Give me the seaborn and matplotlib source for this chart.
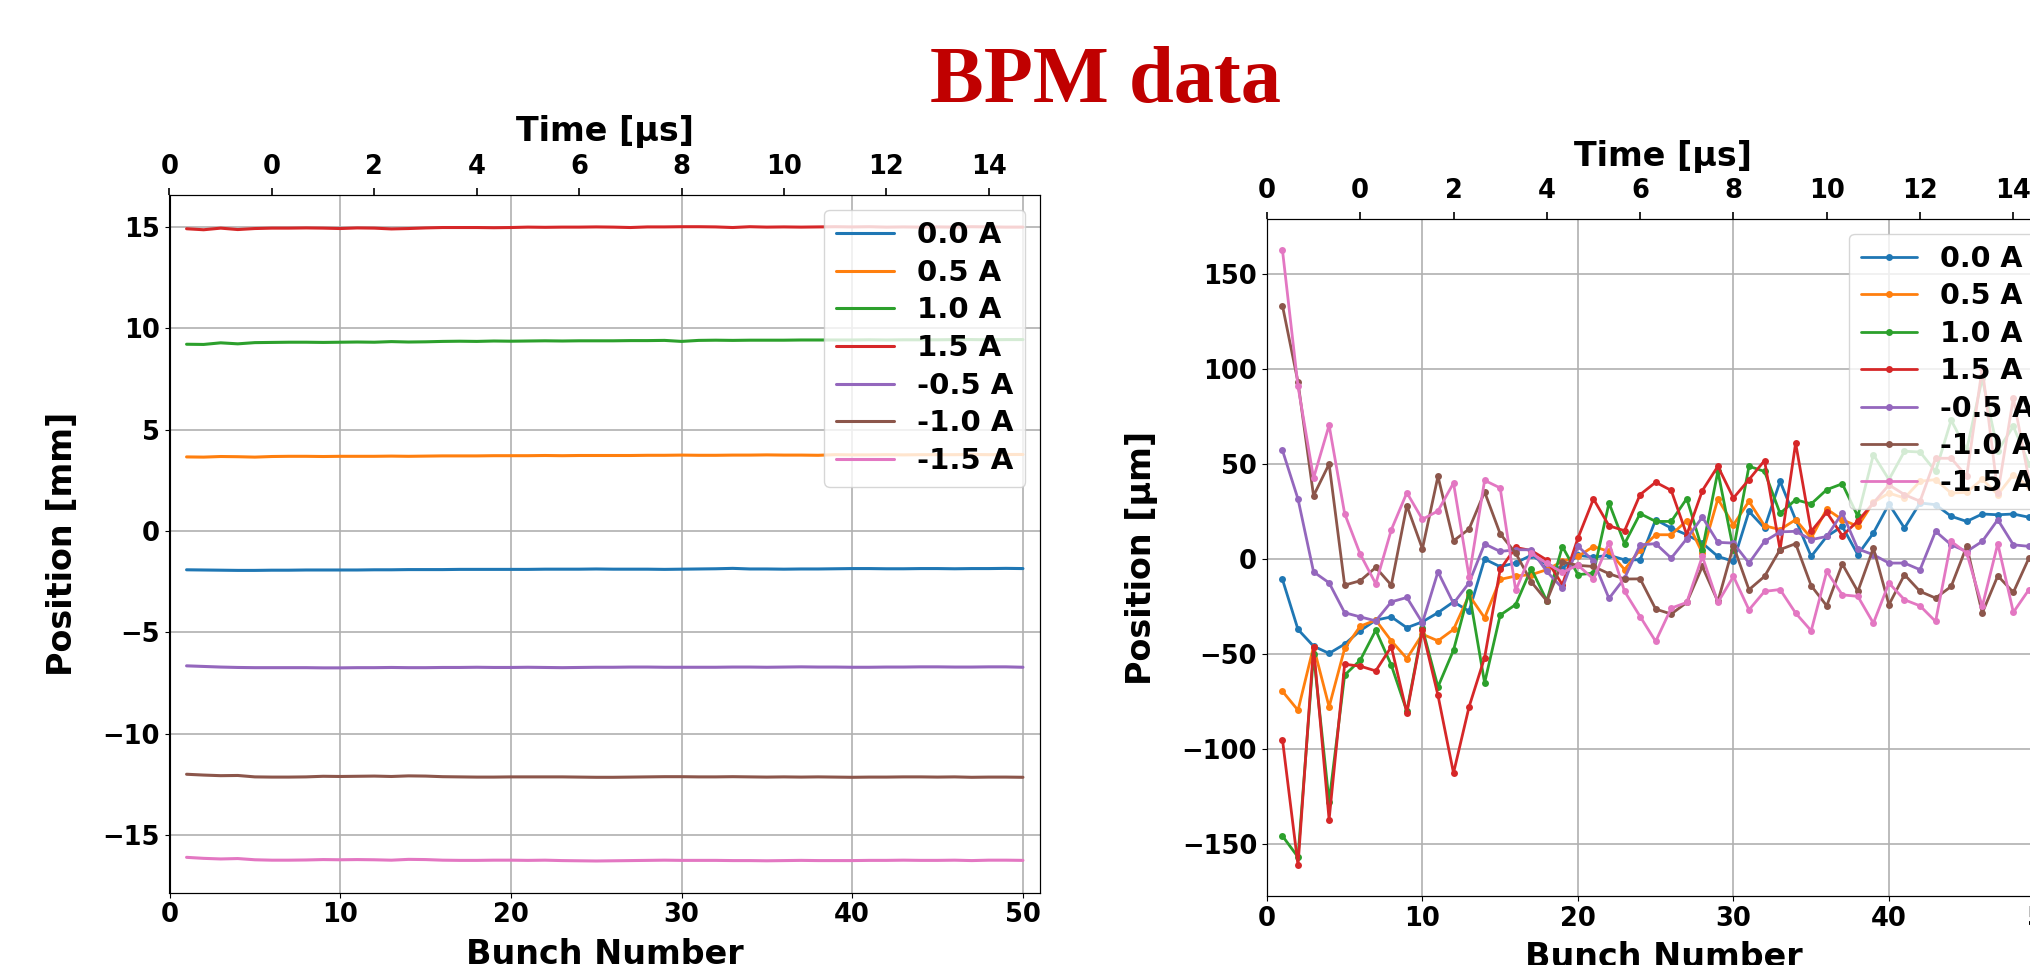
import numpy as np
import pandas as pd
import matplotlib
matplotlib.use("Agg")
import matplotlib.pyplot as plt
import seaborn as sns

# ---------------- data ----------------
labels = ["0.0 A", "0.5 A", "1.0 A", "1.5 A", "-0.5 A", "-1.0 A", "-1.5 A"]
colors = ["#1f77b4", "#ff7f0e", "#2ca02c", "#d62728", "#9467bd", "#8c564b", "#e377c2"]
bunch = list(range(1, 51))

time_tick_pos = [0, 6, 12, 18, 24, 30, 36, 42, 48]
time_tick_labels = ["0", "0", "2", "4", "6", "8", "10", "12", "14"]

# Left panel: position [mm]
left_00 = [-1.91, -1.92, -1.93, -1.94, -1.94, -1.93, -1.93, -1.92, -1.92, -1.92,
           -1.92, -1.91, -1.91, -1.90, -1.90, -1.90, -1.89, -1.89, -1.89, -1.89,
           -1.89, -1.88, -1.88, -1.88, -1.87, -1.88, -1.88, -1.88, -1.89, -1.88,
           -1.87, -1.86, -1.84, -1.87, -1.87, -1.88, -1.87, -1.87, -1.86, -1.85,
           -1.85, -1.86, -1.86, -1.85, -1.85, -1.86, -1.85, -1.85, -1.84, -1.85]
left_05 = [3.66, 3.65, 3.68, 3.67, 3.65, 3.68, 3.69, 3.69, 3.68, 3.69,
           3.69, 3.69, 3.70, 3.69, 3.70, 3.71, 3.71, 3.71, 3.72, 3.72,
           3.72, 3.73, 3.72, 3.73, 3.73, 3.73, 3.73, 3.74, 3.74, 3.75,
           3.74, 3.74, 3.75, 3.75, 3.76, 3.75, 3.75, 3.74, 3.77, 3.76,
           3.76, 3.77, 3.76, 3.77, 3.77, 3.77, 3.78, 3.77, 3.78, 3.78]
left_10 = [9.22, 9.21, 9.29, 9.24, 9.30, 9.31, 9.32, 9.32, 9.31, 9.32,
           9.33, 9.32, 9.35, 9.33, 9.34, 9.36, 9.37, 9.36, 9.38, 9.37,
           9.38, 9.39, 9.38, 9.39, 9.39, 9.39, 9.40, 9.40, 9.41, 9.36,
           9.41, 9.42, 9.41, 9.42, 9.42, 9.42, 9.43, 9.43, 9.43, 9.43,
           9.44, 9.43, 9.44, 9.44, 9.44, 9.45, 9.45, 9.44, 9.45, 9.45]
left_15 = [14.92, 14.87, 14.95, 14.88, 14.93, 14.95, 14.95, 14.96, 14.95, 14.93,
           14.96, 14.95, 14.91, 14.93, 14.96, 14.98, 14.98, 14.98, 14.97, 14.98,
           15.00, 14.99, 15.00, 15.00, 15.01, 15.00, 14.98, 15.01, 15.01, 15.02,
           15.02, 15.01, 14.98, 15.02, 15.00, 15.01, 15.00, 15.01, 15.02, 15.01,
           15.02, 15.00, 15.01, 15.00, 15.01, 15.00, 15.02, 15.01, 15.00, 15.00]
left_m05 = [-6.65, -6.68, -6.71, -6.73, -6.74, -6.74, -6.74, -6.74, -6.75, -6.75,
            -6.74, -6.74, -6.73, -6.74, -6.74, -6.73, -6.73, -6.72, -6.73, -6.73,
            -6.72, -6.73, -6.74, -6.73, -6.72, -6.72, -6.71, -6.71, -6.72, -6.72,
            -6.72, -6.72, -6.71, -6.71, -6.72, -6.71, -6.70, -6.71, -6.71, -6.72,
            -6.72, -6.71, -6.71, -6.70, -6.70, -6.71, -6.71, -6.70, -6.70, -6.72]
left_m10 = [-12.00, -12.04, -12.07, -12.06, -12.13, -12.14, -12.14, -12.13, -12.10, -12.11,
            -12.10, -12.09, -12.11, -12.08, -12.09, -12.12, -12.13, -12.14, -12.14, -12.13,
            -12.13, -12.13, -12.13, -12.14, -12.15, -12.15, -12.14, -12.13, -12.12, -12.12,
            -12.13, -12.13, -12.12, -12.13, -12.14, -12.13, -12.14, -12.13, -12.14, -12.15,
            -12.14, -12.14, -12.13, -12.13, -12.14, -12.13, -12.15, -12.14, -12.14, -12.15]
left_m15 = [-16.10, -16.15, -16.18, -16.16, -16.22, -16.24, -16.24, -16.23, -16.21, -16.22,
            -16.21, -16.22, -16.24, -16.20, -16.21, -16.24, -16.25, -16.25, -16.24, -16.24,
            -16.25, -16.24, -16.26, -16.27, -16.28, -16.27, -16.26, -16.25, -16.24, -16.25,
            -16.25, -16.25, -16.26, -16.26, -16.27, -16.26, -16.25, -16.26, -16.26, -16.26,
            -16.25, -16.25, -16.24, -16.25, -16.25, -16.24, -16.26, -16.24, -16.24, -16.25]

# Right panel: position [um]
right_00 = [-10.7, -37.0, -45.8, -49.6, -44.7, -37.7, -32.1, -30.4, -36.1, -33.0,
            -28.2, -22.5, -27.4, 0.0, -4.0, -2.0, 2.0, -3.0, -5.0, 2.0,
            1.0, 2.0, -0.4, -0.4, 20.7, 16.3, 12.8, 8.4, 1.4, -1.2,
            25.1, 16.3, 40.9, 20.7, 1.4, 11.9, 17.2, 2.3, 13.7, 28.9,
            16.3, 29.5, 28.6, 22.5, 19.8, 23.7, 23.3, 23.7, 22.0, 20.0]
right_05 = [-69.5, -79.5, -46.0, -77.7, -47.0, -35.3, -32.1, -43.0, -52.3, -39.5,
            -43.0, -37.0, -19.0, -30.9, -10.7, -8.9, -8.2, -5.6, -1.2, 1.4,
            6.6, 4.0, -5.5, 4.9, 12.8, 12.8, 20.2, 3.2, 31.6, 18.0,
            30.4, 17.5, 15.5, 20.7, 11.0, 26.3, 20.7, 17.2, 29.8, 34.7,
            32.1, 40.9, 41.8, 34.7, 35.1, 42.0, 33.9, 44.4, 38.0, 36.0]
right_10 = [-145.6, -156.7, -50.0, -127.7, -61.0, -53.2, -37.4, -55.8, -80.0, -36.5,
            -67.2, -47.9, -17.2, -65.1, -29.5, -23.9, -5.0, -22.0, 6.6, -8.2,
            -7.4, 29.5, 8.1, 23.9, 19.8, 19.8, 31.8, 4.9, 46.1, 4.9,
            48.8, 46.1, 24.0, 31.2, 29.0, 36.5, 39.6, 22.5, 54.9, 41.8,
            56.7, 56.3, 46.1, 73.0, 57.5, 95.0, 57.0, 69.8, 50.0, 45.0]
right_15 = [-94.9, -161.0, -46.1, -137.0, -55.3, -56.3, -58.8, -46.1, -80.9, -37.4,
            -71.6, -112.5, -77.7, -51.8, -5.4, 6.1, 4.5, -0.5, -13.5, 11.0,
            31.6, 17.5, 14.9, 33.9, 40.4, 36.1, 12.8, 36.0, 48.8, 32.1,
            41.8, 51.8, 4.9, 61.0, 14.6, 24.6, 12.3, 20.0, 29.5, 39.0,
            33.9, 30.4, 53.0, 53.0, 43.5, 100.5, 34.7, 84.7, 42.0, 40.0]
right_m05 = [57.2, 31.6, -6.7, -12.5, -28.2, -30.4, -32.5, -22.5, -20.2, -33.5,
             -6.7, -23.3, -12.5, 8.0, 4.0, 4.9, 4.9, -6.5, -15.3, 6.8,
             -1.0, -20.7, -10.0, 7.5, 8.1, 0.5, 10.7, 22.1, 8.8, 8.4,
             -2.1, 9.3, 14.3, 14.6, 10.2, 11.9, 24.2, 5.3, 2.3, -2.1,
             -2.1, -5.6, 14.6, 7.5, 4.0, 9.3, 20.7, 7.5, 6.7, 6.0]
right_m10 = [133.3, 93.0, 33.3, 50.0, -13.7, -11.4, -4.4, -13.7, 28.1, 5.4,
             43.5, 9.6, 15.8, 35.3, 13.3, 3.1, -12.0, -22.0, -1.5, -3.3,
             -3.9, -7.7, -10.5, -10.4, -26.3, -28.9, -22.8, -3.9, -22.3, 7.0,
             -16.1, -9.1, 5.0, 8.1, -14.0, -24.6, -2.6, -17.0, 5.8, -24.0,
             -8.2, -17.0, -20.5, -14.4, 6.7, -28.4, -8.8, -17.5, 0.5, -5.0]
right_m15 = [162.5, 90.9, 42.6, 70.4, 23.9, 2.6, -13.0, 15.4, 34.9, 20.9,
             25.3, 40.0, -9.3, 41.4, 37.4, -16.5, 3.1, -2.3, -7.0, -3.2,
             -10.5, 8.6, -17.0, -30.2, -43.3, -25.8, -22.8, 1.4, -22.8, -9.1,
             -26.7, -17.0, -16.0, -28.4, -37.7, -6.5, -18.8, -19.6, -33.7, -12.6,
             -21.4, -24.6, -32.8, 9.3, 3.2, -24.9, 8.1, -28.0, -16.1, -10.0]

left_series = [left_00, left_05, left_10, left_15, left_m05, left_m10, left_m15]
right_series = [right_00, right_05, right_10, right_15, right_m05, right_m10, right_m15]

# ---------------- style ----------------
sns.set_style("ticks", rc={
    "axes.edgecolor": "black",
    "axes.linewidth": 1.2,
    "axes.labelcolor": "black",
    "text.color": "black",
    "xtick.direction": "out",
    "ytick.direction": "out",
    "xtick.major.size": 5,
    "ytick.major.size": 5,
    "xtick.major.width": 1.2,
    "ytick.major.width": 1.2,
    "xtick.color": "black",
    "ytick.color": "black",
})
plt.rcParams["font.family"] = ["DejaVu Sans"]
plt.rcParams["font.weight"] = "bold"
plt.rcParams["axes.labelweight"] = "bold"
plt.rcParams["axes.unicode_minus"] = True

W, H = 2030, 965
fig = plt.figure(figsize=(W / 100, H / 100), dpi=100)
fig.patch.set_facecolor("white")

TICK_FS = 18.5
LABEL_FS = 24


def setup_axes(ax, ylabel, legend_fs):
    ax.set_xlim(0, 51)
    ax.set_xticks([0, 10, 20, 30, 40, 50])
    ax.grid(True, color="#b0b0b0", linewidth=1.2)
    ax.set_axisbelow(True)
    ax.tick_params(labelsize=TICK_FS, labelcolor="black")
    for lab in ax.get_xticklabels() + ax.get_yticklabels():
        lab.set_fontweight("bold")
    ax.set_xlabel("Bunch Number", fontsize=LABEL_FS, fontweight="bold",
                  labelpad=7, color="black")
    ax.set_ylabel(ylabel, fontsize=LABEL_FS, fontweight="bold",
                  labelpad=17, color="black")
    leg = ax.legend(loc="upper right", framealpha=0.8,
                    edgecolor="0.8", fancybox=True, labelspacing=0.33,
                    handlelength=2.0, borderpad=0.4,
                    prop={"weight": "bold", "size": legend_fs})
    for t in leg.get_texts():
        t.set_color("black")
    leg.set_zorder(10)
    ax2 = ax.twiny()
    ax2.set_xlim(ax.get_xlim())
    ax2.set_xticks(time_tick_pos)
    ax2.set_xticklabels(time_tick_labels, fontsize=TICK_FS, fontweight="bold")
    ax2.tick_params(labelsize=TICK_FS, length=5, width=1.2, pad=6,
                    labelcolor="black")
    ax2.set_xlabel("Time [µs]", fontsize=LABEL_FS, fontweight="bold",
                   labelpad=9, color="black")
    ax2.grid(False)
    return ax2


# Left panel
axL = fig.add_axes([169.5 / W, 1 - 892.7 / H, (1040 - 169.5) / W, (892.7 - 195) / H])
for lab, col, vals in zip(labels, colors, left_series):
    sns.lineplot(x=bunch, y=vals, ax=axL, color=col, label=lab, linewidth=2.2)
setup_axes(axL, "Position [mm]", 21)

# Right panel (extends past right edge, as in the reference)
axR = fig.add_axes([1266.9 / W, 1 - 896 / H, (2060 - 1266.9) / W, (896 - 219.3) / H])
for lab, col, vals in zip(labels, colors, right_series):
    sns.lineplot(x=bunch, y=vals, ax=axR, color=col, label=lab, linewidth=2.0,
                 marker="o", markersize=5, markeredgewidth=0, markeredgecolor=col)
setup_axes(axR, "Position [µm]", 20.5)

# Title
fig.text(1105 / W, 1 - 102.3 / H, "BPM data", ha="center", va="baseline",
         fontsize=58, fontweight="bold", color="#C00000",
         family=["Liberation Serif", "DejaVu Serif"])

fig.savefig("out.png", dpi=100)
